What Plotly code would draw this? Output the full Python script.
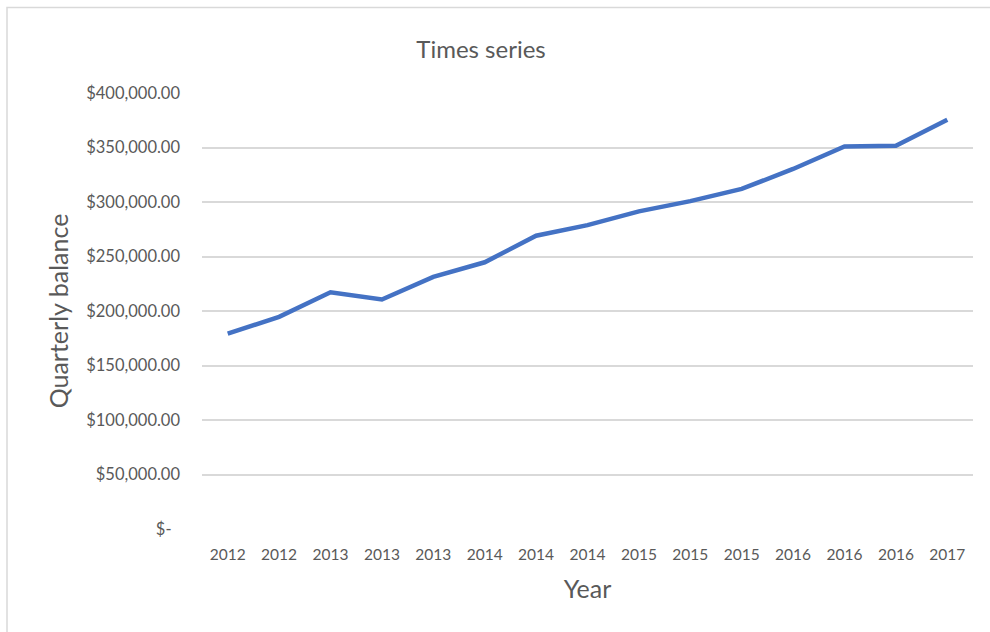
import plotly.graph_objects as go

# Data
x_labels = ["2012", "2012", "2013", "2013", "2013", "2014", "2014", "2014",
            "2015", "2015", "2015", "2016", "2016", "2016", "2017"]
balance = [179300, 194600, 217200, 210500, 231300, 244700, 269100, 278800,
           291400, 300800, 312000, 330300, 351000, 351700, 375500]
y_tick_vals = [0, 50000, 100000, 150000, 200000, 250000, 300000, 350000, 400000]
y_tick_text = ["$-\u00a0\u00a0", "$50,000.00", "$100,000.00", "$150,000.00", "$200,000.00",
               "$250,000.00", "$300,000.00", "$350,000.00", "$400,000.00"]

FONT = "Lato"
GREY = "#595959"

x_idx = list(range(len(x_labels)))

fig = go.Figure()
fig.add_trace(go.Scatter(
    x=x_idx, y=balance, mode="lines",
    line=dict(color="#4472C4", width=4.5),
    hoverinfo="skip", showlegend=False,
))

L, R, T, B = 202, 17, 93, 103
W, H = 990, 632
pw = W - L - R
ph = H - T - B

fig.update_layout(
    width=W, height=H,
    margin=dict(l=L, r=R, t=T, b=B, pad=0),
    paper_bgcolor="white", plot_bgcolor="white",
    font=dict(family=FONT, color=GREY),
    title=dict(text="Times series", x=481 / W, xanchor="center", xref="container",
               y=1 - 50 / H, yanchor="middle", yref="container",
               font=dict(family=FONT, size=24, color=GREY)),
    xaxis=dict(
        range=[-0.5, len(x_labels) - 0.5],
        tickmode="array", tickvals=x_idx, ticktext=x_labels,
        tickfont=dict(family=FONT, size=15.5, color=GREY),
        showgrid=False, zeroline=False, showline=False, ticks="",
        ticklabelstandoff=14,
        title=dict(text="Year", font=dict(family=FONT, size=25, color=GREY), standoff=18),
    ),
    yaxis=dict(
        range=[0, 400000],
        tickmode="array", tickvals=y_tick_vals, ticktext=y_tick_text,
        tickfont=dict(family=FONT, size=16.5, color=GREY),
        showgrid=True, gridcolor="#D9D9D9", gridwidth=1.5,
        zeroline=False, showline=False, ticks="",
        ticklabelstandoff=21,
        title=dict(text="Quarterly balance", font=dict(family=FONT, size=25, color=GREY), standoff=10),
    ),
    shapes=[dict(
        type="rect", xref="paper", yref="paper",
        x0=(7 - L) / pw, x1=(1005 - L) / pw,
        y0=(H - B - 645) / ph, y1=(H - B - 7.5) / ph,
        line=dict(color="#D9D9D9", width=1.5), fillcolor="rgba(0,0,0,0)", layer="below",
    )],
)

fig.write_html("out.html")
